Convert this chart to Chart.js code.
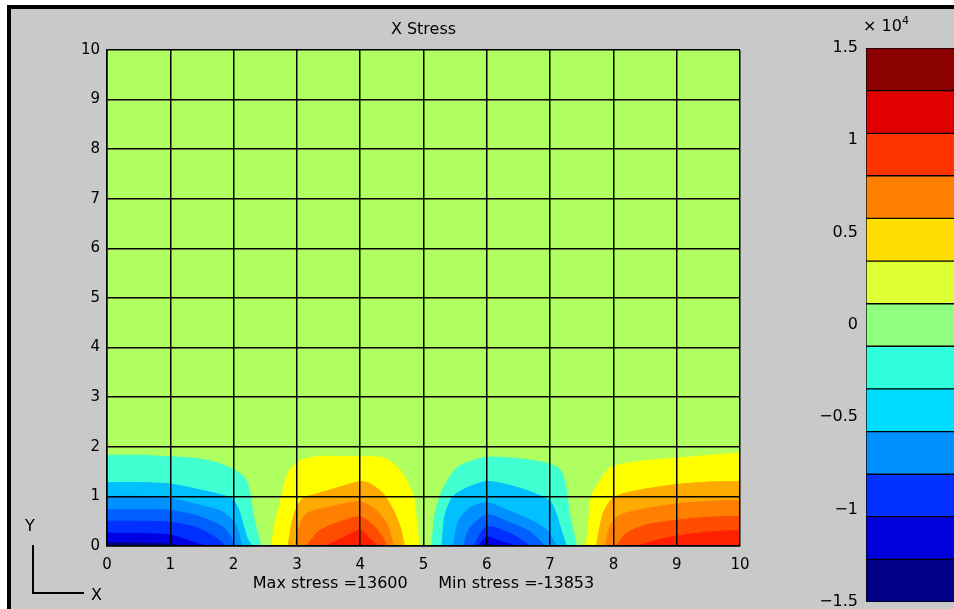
<!DOCTYPE html>
<html>
<head>
<meta charset="utf-8">
<script src="https://cdn.jsdelivr.net/npm/chart.js@4/dist/chart.umd.min.js"></script>
<style>
  html, body { margin: 0; padding: 0; width: 954px; height: 609px; overflow: hidden; background: #fff; }
  .frame { position: absolute; left: 7px; top: 5px; right: 0; bottom: 0; border-top: 4px solid #000; border-left: 4px solid #000; background: #c9c9c9; }
  canvas { position: absolute; top: 0; }
  .txt { position: absolute; font-family: 'DejaVu Sans', sans-serif; font-size: 16px; line-height: 20px; color: #000; white-space: pre; }
  .axes { position: absolute; left: 32px; top: 545px; width: 50px; height: 47px; border-left: 2px solid #000; border-bottom: 2px solid #000; }
</style>
</head>
<body>
<div class="frame"></div>
<canvas id="main" width="954" height="609" style="left:0"></canvas>
<canvas id="cbar" width="170" height="609" style="left:800px"></canvas>
<div class="axes"></div>
<div class="txt" style="left:25px; top:516px">Y</div>
<div class="txt" style="left:91px; top:585px">X</div>
<div class="txt" style="left:863px; top:16px">× 10</div>
<div class="txt" style="left:902px; top:11px; font-size:11px">4</div>
<script>
// ตัวอักษรทั้งหมด
const FONT = 'DejaVu Sans';
const plotBgColor = '#b0ff60';

// สีของแต่ละชั้น (จากนอกเข้าใน)
const negColors = ['#40ffd0', '#00c0ff', '#0090ff', '#0060ff', '#0030ff', '#0000e6', '#000090'];
const posColors = ['#ffff00', '#ffaa00', '#ff7f00', '#ff4c00', '#ff2000'];

// เส้นขอบของแต่ละชั้น [x, y] อ่านจากภาพ
const lobeA = [
  [[0, 1.83], [0.5, 1.83], [1.0, 1.80], [1.44, 1.76], [1.76, 1.67], [2.0, 1.54], [2.18, 1.37], [2.26, 1.04], [2.31, 0.63], [2.38, 0.25], [2.44, 0]],
  [[0, 1.28], [0.5, 1.28], [1.0, 1.25], [1.44, 1.14], [1.81, 1.03], [1.98, 0.95], [2.07, 0.77], [2.15, 0.43], [2.22, 0.15], [2.29, 0]],
  [[0, 1.0], [0.5, 1.0], [1.0, 0.96], [1.44, 0.83], [1.81, 0.70], [1.98, 0.53], [2.07, 0.30], [2.13, 0]],
  [[0, 0.73], [0.5, 0.73], [1.0, 0.72], [1.44, 0.60], [1.81, 0.40], [1.95, 0.2], [2.0, 0]],
  [[0, 0.5], [0.5, 0.5], [1.0, 0.48], [1.44, 0.36], [1.76, 0.13], [1.86, 0]],
  [[0, 0.26], [0.5, 0.25], [1.0, 0.22], [1.31, 0.1], [1.55, 0]],
  [[0, 0.07], [0.6, 0.06], [1.0, 0.04], [1.2, 0]]
];
const lobeB = [
  [[2.60, 0], [2.66, 0.5], [2.76, 1.0], [2.86, 1.47], [3.02, 1.70], [3.31, 1.80], [4.0, 1.80], [4.37, 1.78], [4.58, 1.60], [4.73, 1.33], [4.84, 1.0], [4.89, 0.5], [4.93, 0]],
  [[2.86, 0], [2.92, 0.46], [3.0, 0.79], [3.1, 0.97], [3.31, 1.05], [3.63, 1.17], [4.0, 1.30], [4.15, 1.26], [4.36, 1.06], [4.52, 0.73], [4.63, 0.39], [4.70, 0]],
  [[2.97, 0], [3.04, 0.4], [3.15, 0.65], [3.5, 0.78], [4.0, 0.89], [4.25, 0.72], [4.42, 0.45], [4.53, 0]],
  [[3.15, 0], [3.35, 0.3], [3.6, 0.45], [4.0, 0.59], [4.2, 0.42], [4.35, 0.18], [4.42, 0]],
  [[3.45, 0], [3.7, 0.15], [4.0, 0.32], [4.15, 0.15], [4.27, 0]]
];
const lobeC = [
  [[5.13, 0], [5.18, 0.63], [5.26, 1.0], [5.37, 1.30], [5.52, 1.57], [5.73, 1.70], [6.0, 1.79], [6.5, 1.76], [6.95, 1.67], [7.16, 1.54], [7.24, 1.24], [7.31, 0.63], [7.42, 0]],
  [[5.29, 0], [5.34, 0.63], [5.47, 1.0], [5.68, 1.17], [6.0, 1.30], [6.31, 1.24], [6.68, 1.10], [7.0, 0.9], [7.1, 0.63], [7.18, 0.3], [7.26, 0]],
  [[5.47, 0], [5.55, 0.5], [5.73, 0.77], [6.0, 0.87], [6.31, 0.73], [6.68, 0.53], [6.95, 0.32], [7.10, 0]],
  [[5.63, 0], [5.73, 0.36], [6.0, 0.63], [6.31, 0.50], [6.68, 0.29], [6.92, 0]],
  [[5.79, 0], [6.0, 0.39], [6.42, 0.22], [6.68, 0]],
  [[5.87, 0], [6.0, 0.18], [6.25, 0.08], [6.47, 0]],
  [[5.95, 0], [6.0, 0.04], [6.15, 0]]
];
const lobeD = [
  [[7.57, 0], [7.62, 0.63], [7.65, 1.0], [7.78, 1.30], [7.94, 1.57], [8.2, 1.67], [8.6, 1.73], [9.0, 1.77], [9.52, 1.83], [10, 1.88]],
  [[7.73, 0], [7.83, 0.63], [7.94, 0.9], [8.09, 1.03], [8.46, 1.14], [9.0, 1.24], [9.52, 1.29], [10, 1.30]],
  [[7.87, 0], [7.95, 0.4], [8.1, 0.62], [8.5, 0.75], [9.0, 0.85], [9.5, 0.9], [10, 0.92]],
  [[8.05, 0], [8.2, 0.25], [8.5, 0.42], [9.0, 0.52], [9.5, 0.58], [10, 0.6]],
  [[8.37, 0], [8.7, 0.12], [9.0, 0.2], [9.5, 0.28], [10, 0.32]]
];

// แถบสี (ล่างขึ้นบน) หน่วย x10^4
const barEdges = [-1.5, -1.269, -1.038, -0.808, -0.577, -0.346, -0.115, 0.115, 0.346, 0.577, 0.808, 1.038, 1.269, 1.5];
const barColors = ['#000088', '#0000dd', '#0030ff', '#0090ff', '#00ddff', '#30ffdd', '#90ff80', '#ddff33', '#ffdd00', '#ff8000', '#ff3300', '#e00000', '#8b0000'];

const chartTitle = 'X Stress';
const statText = 'Max stress =13600      Min stress =-13853';

let datasets = [];
function addLobe(levels, colors) {
    levels.forEach(function(pts, i) {
        datasets.push({
            data: pts.map(p => ({ x: p[0], y: p[1] })),
            backgroundColor: colors[i],
            borderColor: colors[i],
            borderWidth: 1,
            fill: 'origin',
            pointRadius: 0,
            tension: 0.25,
            order: 20 - i
        });
    });
}
addLobe(lobeA, negColors);
addLobe(lobeB, posColors);
addLobe(lobeC, negColors);
addLobe(lobeD, posColors);

// พื้นหลังสีเขียวของกราฟ
const plotBg = {
    id: 'plotBg',
    beforeDatasetsDraw(chart) {
        const a = chart.chartArea;
        chart.ctx.save();
        chart.ctx.fillStyle = plotBgColor;
        chart.ctx.fillRect(a.left, a.top, a.right - a.left, a.bottom - a.top);
        chart.ctx.restore();
    }
};

const tickFont = { family: FONT, size: 15 };

new Chart(document.getElementById('main'), {
    type: 'line',
    data: { datasets: datasets },
    options: {
        responsive: false,
        animation: false,
        layout: { padding: { top: 0, right: 214, bottom: 0, left: 0 } },
        plugins: {
            legend: { display: false },
            tooltip: { enabled: false },
            title: {
                display: true, text: chartTitle, fullSize: false, color: '#000',
                font: { family: FONT, size: 16, weight: 'normal' },
                padding: { top: 20, bottom: 10.8 }
            }
        },
        scales: {
            x: {
                type: 'linear', min: 0, max: 10,
                afterFit: function(s) { s.height = 63; },
                ticks: { stepSize: 1, color: '#000', font: tickFont, padding: 10, maxRotation: 0 },
                grid: { color: '#000', lineWidth: 1.5, drawTicks: false, z: 1 },
                border: { color: '#000', width: 1.5, z: 1 },
                title: { display: true, text: statText, color: '#000', font: { family: FONT, size: 16 }, padding: { top: 0, bottom: 16 } }
            },
            y: {
                type: 'linear', min: 0, max: 10,
                afterFit: function(s) { s.width = 107; },
                ticks: { stepSize: 1, color: '#000', font: tickFont, padding: 7 },
                grid: { color: '#000', lineWidth: 1.5, drawTicks: false, z: 1 },
                border: { color: '#000', width: 1.5, z: 1 }
            }
        }
    },
    plugins: [plotBg]
});

// แถบสีด้านขวา
let barSets = [];
for (let i = 0; i < barColors.length; i++) {
    barSets.push({
        data: [[barEdges[i], barEdges[i + 1]]],
        backgroundColor: barColors[i],
        borderColor: '#000',
        borderWidth: 1,
        borderSkipped: false,
        grouped: false,
        barPercentage: 1,
        categoryPercentage: 1
    });
}

new Chart(document.getElementById('cbar'), {
    type: 'bar',
    data: { labels: [''], datasets: barSets },
    options: {
        responsive: false,
        animation: false,
        layout: { padding: { top: 48, bottom: 7, left: 0, right: 0 } },
        plugins: { legend: { display: false }, tooltip: { enabled: false } },
        scales: {
            x: { display: false },
            y: {
                min: -1.5, max: 1.5,
                afterFit: function(s) { s.width = 66; s.paddingTop = 0; s.paddingBottom = 0; },
                ticks: {
                    stepSize: 0.5, color: '#000', padding: 8,
                    font: { family: FONT, size: 16 },
                    callback: v => String(v).replace('-', '\u2212')
                },
                grid: { display: false, drawTicks: false },
                border: { display: false }
            }
        }
    }
});
</script>
</body>
</html>
